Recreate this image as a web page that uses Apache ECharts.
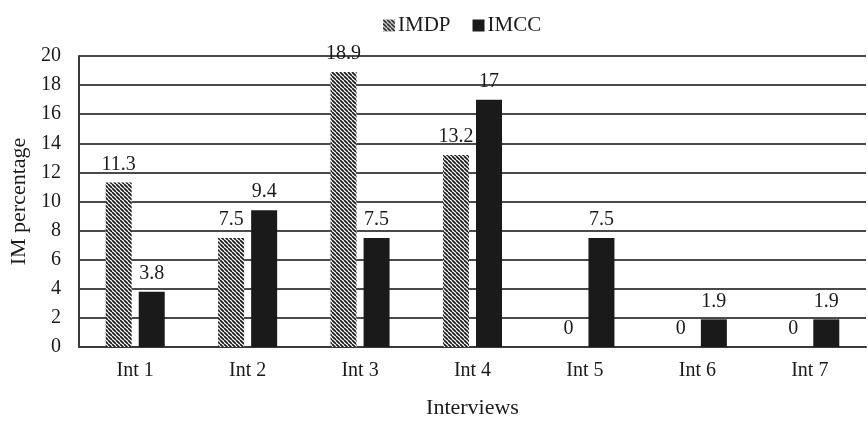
<!DOCTYPE html>
<html>
<head>
<meta charset="utf-8">
<script src="https://cdn.jsdelivr.net/npm/echarts@6/dist/echarts.min.js"></script>
<style>
  html, body { margin: 0; padding: 0; background: #ffffff; }
  #chart { width: 868px; height: 424px; }
</style>
</head>
<body>
<div id="chart"></div>
<script>
// Interview data: share of IM per interview
var categories = ['Int 1', 'Int 2', 'Int 3', 'Int 4', 'Int 5', 'Int 6', 'Int 7'];
var imdpValues = [11.3, 7.5, 18.9, 13.2, 0, 0, 0];
var imccValues = [3.8, 9.4, 7.5, 17, 7.5, 1.9, 1.9];
var seriesNames = ['IMDP', 'IMCC'];
var yTicks = { min: 0, max: 20, interval: 2 };

// Diagonal hatch tile for the IMDP bars
function hatchPattern() {
  var s = 4;
  var c = document.createElement('canvas');
  c.width = s; c.height = s;
  var g = c.getContext('2d');
  g.fillStyle = '#ffffff';
  g.fillRect(0, 0, s, s);
  g.strokeStyle = '#1a1a1a';
  g.lineWidth = 1.7;
  [-s, 0, s].forEach(function (x0) {
    g.beginPath();
    g.moveTo(x0, 0);
    g.lineTo(x0 + s, s);
    g.stroke();
  });
  return { image: c, repeat: 'repeat' };
}

var FONT = 'Liberation Serif';
var TEXT = '#1a1a1a';

var chart = echarts.init(document.getElementById('chart'), null, { renderer: 'canvas' });

var labelStyle = {
  show: true,
  position: 'top',
  distance: 8,
  fontFamily: FONT,
  fontSize: 20,
  color: TEXT
};

chart.setOption({
  animation: false,
  backgroundColor: '#ffffff',
  textStyle: { fontFamily: FONT },
  legend: {
    top: 10,
    left: 378,
    itemWidth: 12,
    itemHeight: 12,
    itemGap: 22,
    icon: 'rect',
    textStyle: { fontFamily: FONT, fontSize: 21, color: TEXT, padding: [0, 0, 0, -2] },
    data: seriesNames
  },
  grid: { left: 77, right: 2, top: 56, bottom: 71 },
  xAxis: {
    type: 'category',
    data: categories,
    name: 'Interviews',
    nameLocation: 'middle',
    nameGap: 50,
    nameTextStyle: { fontFamily: FONT, fontSize: 22, color: TEXT },
    axisLine: { show: true, lineStyle: { color: '#3a3a3a', width: 2 } },
    axisTick: { show: false },
    axisLabel: { fontFamily: FONT, fontSize: 20, color: TEXT, margin: 14 }
  },
  yAxis: {
    type: 'value',
    min: yTicks.min,
    max: yTicks.max,
    interval: yTicks.interval,
    name: 'IM percentage',
    nameLocation: 'middle',
    nameGap: 49,
    nameRotate: 90,
    nameTextStyle: { fontFamily: FONT, fontSize: 22, color: TEXT },
    axisLine: { show: true, lineStyle: { color: '#3a3a3a', width: 2 } },
    axisTick: { show: false },
    axisLabel: { fontFamily: FONT, fontSize: 20, color: TEXT, margin: 18 },
    splitLine: { show: true, lineStyle: { color: '#4a4a4a', width: 2 } }
  },
  series: [
    {
      name: seriesNames[0],
      type: 'bar',
      data: imdpValues,
      barWidth: 26,
      barGap: '27%',
      itemStyle: { color: hatchPattern() },
      label: labelStyle
    },
    {
      name: seriesNames[1],
      type: 'bar',
      data: imccValues,
      barWidth: 26,
      itemStyle: { color: '#1a1a1a' },
      label: labelStyle
    }
  ]
});
</script>
</body>
</html>
